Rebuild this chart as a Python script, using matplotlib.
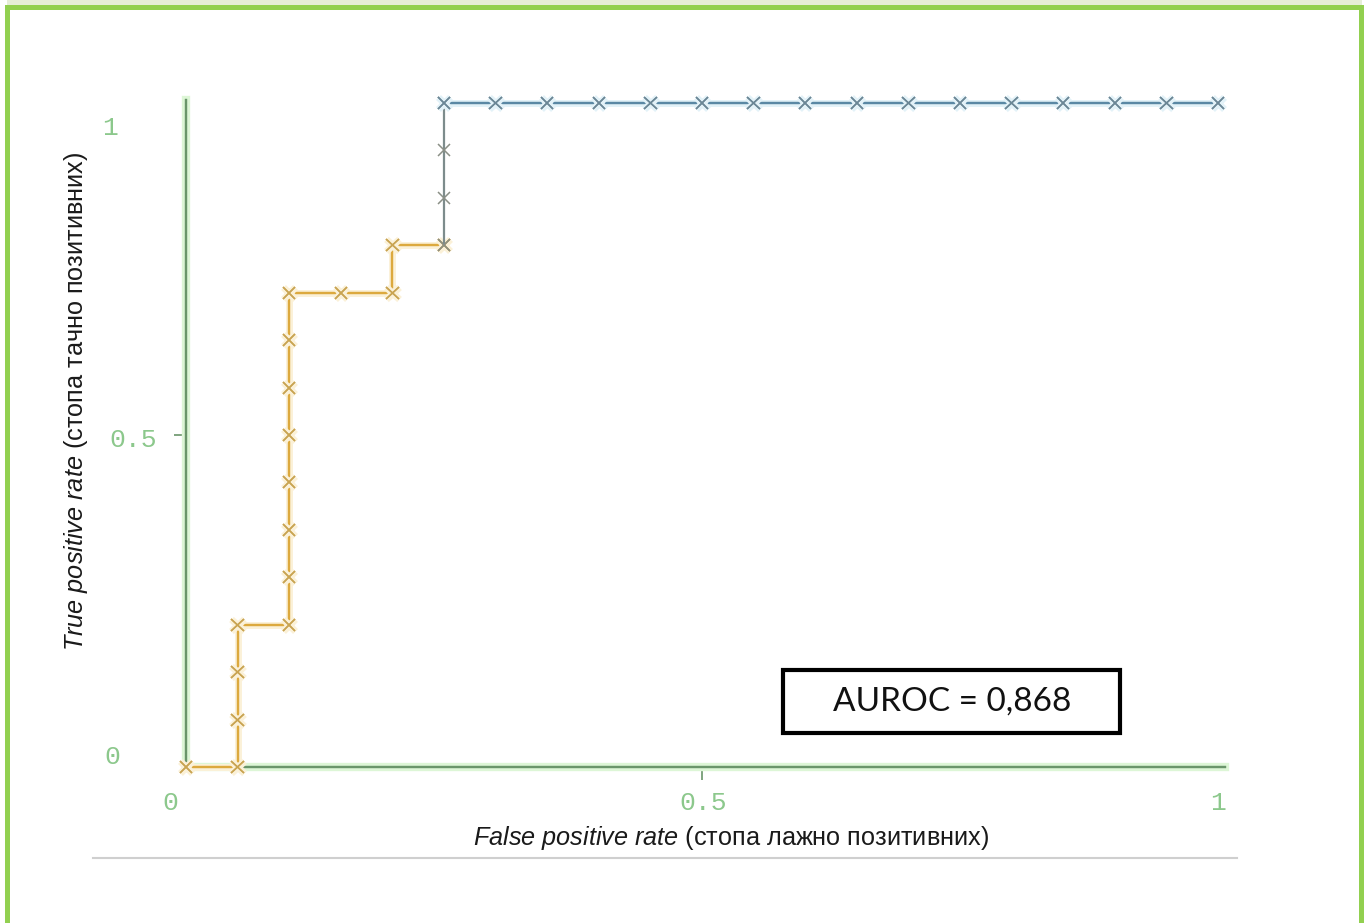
#! /usr/bin/env python3
#
# ROC curve (AUROC = 0,868), redrawn from a screenshot
#

import numpy as np
import matplotlib
matplotlib.use("Agg")
import matplotlib.pyplot as plt
import matplotlib.patheffects as pe
from matplotlib.patches import Rectangle

# Data: three pieces of the same step curve
fprLow  = [0.0, 0.05, 0.05, 0.05, 0.05, 0.10, 0.10, 0.10, 0.10, 0.10, 0.10, 0.10, 0.10, 0.15, 0.20, 0.20, 0.25]
tprLow  = [0.0, 0.0, 0.071, 0.143, 0.214, 0.214, 0.286, 0.357, 0.429, 0.5, 0.571, 0.643, 0.714, 0.714, 0.714, 0.786, 0.786]
fprMid  = [0.25, 0.25, 0.25, 0.25]
tprMid  = [0.786, 0.857, 0.929, 1.0]
fprHigh = [0.25, 0.30, 0.35, 0.40, 0.45, 0.50, 0.55, 0.60, 0.65, 0.70, 0.75, 0.80, 0.85, 0.90, 0.95, 1.0]
tprHigh = [1.0, 1.0, 1.0, 1.0, 1.0, 1.0, 1.0, 1.0, 1.0, 1.0, 1.0, 1.0, 1.0, 1.0, 1.0, 1.0]

tickValues = [0, 0.5, 1]
tickLabels = ["0", "0.5", "1"]
aurocText = "AUROC = 0,868"
xLabelIt = "False positive rate"
xLabelRest = "(стопа лажно позитивних)"
yLabelIt = "True positive rate"
yLabelRest = "(стопа тачно позитивних)"

# Styles
W, H, dpi = 1367, 923, 100
axisCol = "#6a956a"
glowCol = "#ddf6d6"
tickCol = "#8cc88c"
orange = "#dca93e"
grey = "#7d8c8c"
blue = "#5a88a4"

plt.rc('mathtext', fontset='custom', it='Liberation Sans:italic', rm='Liberation Sans')

fig = plt.figure(figsize=(W/dpi, H/dpi), dpi=dpi)
fig.patch.set_facecolor("white")

def px(x0, y0, x1, y1):
	# pixel box (top-left origin) -> figure fraction rect
	return (x0/W, 1 - y1/H, (x1-x0)/W, (y1-y0)/H)

# Page decoration: light strip on top and green frame
for (x0, y0, x1, y1, c) in [(7, 0, 1362, 5, "#e6eed8"),
							(5, 5, 1364, 10, "#92d050"),
							(5, 5, 10, H, "#92d050"),
							(1359, 5, 1364, H, "#92d050")]:
	l, b, w, h = px(x0, y0, x1, y1)
	fig.patches.append(Rectangle((l, b), w, h, transform=fig.transFigure,
								 facecolor=c, edgecolor="none", zorder=0))
# grey rule under the x label
fig.add_artist(plt.Line2D([93/W, 1237/W], [1-858/H, 1-858/H], transform=fig.transFigure,
						  color="#cfcfcf", lw=1.5))

ax = fig.add_axes([186/W, 1-767/H, (1225-186)/W, (767-100)/H])
ax.set_xlim(0, 1.0068)
ax.set_ylim(0, 1.0045)
for s in ["top", "right"]:
	ax.spines[s].set_visible(False)
for s in ["left", "bottom"]:
	ax.spines[s].set_color(axisCol)
	ax.spines[s].set_linewidth(1.6)
	ax.spines[s].set_path_effects([pe.withStroke(linewidth=6, foreground=glowCol), pe.Normal()])

ax.set_xticks([0.5])
ax.set_yticks([0.5])
ax.set_xticklabels([])
ax.set_yticklabels([])
ax.tick_params(axis='both', color=axisCol, width=1.2, length=9)

# Curve
ax.plot(fprLow, tprLow, color=orange, lw=1.6, marker='x', ms=9, mew=1.1,
		mec="#c9a452", path_effects=[pe.withStroke(linewidth=5, foreground="#fbf1d8"), pe.Normal()],
		clip_on=False, zorder=3)
ax.plot(fprMid, tprMid, color=grey, lw=1.6, marker='x', ms=9, mew=1.1,
		mec="#8a8f86", clip_on=False, zorder=3)
ax.plot(fprHigh, tprHigh, color=blue, lw=1.6, marker='x', ms=9, mew=1.1,
		mec="#6b8796", path_effects=[pe.withStroke(linewidth=5, foreground="#e3f2f8"), pe.Normal()],
		clip_on=False, zorder=3)

# Tick labels (monospace, light green, offset like the original)
tickFont = dict(family="Liberation Mono", size=19, color=tickCol, ha="center", va="center")
yOffsets = [(-74, 10), (-53, -5), (-76, -25)]
xOffsets = [(-16, -36), (1, -36), (0, -36)]
for v, lab, off in zip(tickValues, tickLabels, yOffsets):
	ax.annotate(lab, xy=(0, v), xytext=off, textcoords="offset pixels", annotation_clip=False, **tickFont)
for v, lab, off in zip(tickValues, tickLabels, xOffsets):
	ax.annotate(lab, xy=(v, 0), xytext=off, textcoords="offset pixels", annotation_clip=False, **tickFont)

# Axis labels: italic english part + regular serbian part
labFont = dict(family="Liberation Sans", size=18.2, color="#1a1a1a")
fig.text(731/W, 1-838/H, r"$\it{" + xLabelIt.replace(" ", r"\ ") + "}$ " + xLabelRest,
		 ha="center", va="center", **labFont)
fig.text(76/W, 1-401/H, r"$\it{" + yLabelIt.replace(" ", r"\ ") + "}$ " + yLabelRest,
		 ha="center", va="center", rotation=90, **labFont)

# AUROC box
l, b, w, h = px(783, 670, 1120, 733)
fig.patches.append(Rectangle((l, b), w, h, transform=fig.transFigure, facecolor="white",
							 edgecolor="black", lw=3, zorder=5))
fig.text(952/W, 1-702/H, aurocText, family="Lato", size=24, color="#111111",
		 ha="center", va="center", zorder=6)

fig.savefig("out.png", dpi=dpi)
plt.close(fig)

# EOF
